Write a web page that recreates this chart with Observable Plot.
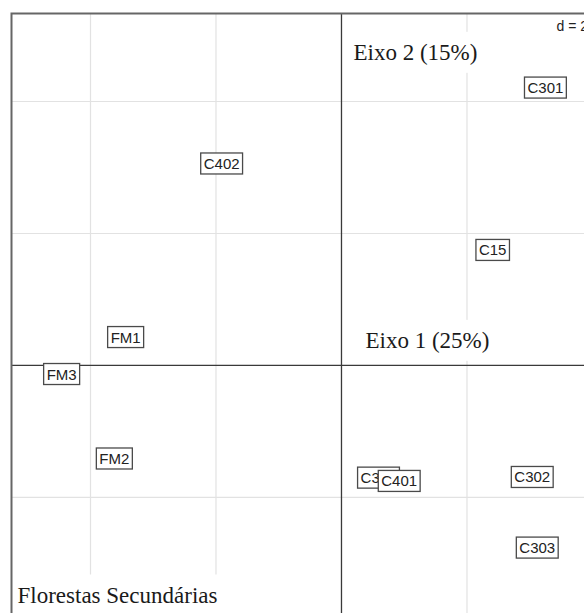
<!DOCTYPE html>
<html><head><meta charset="utf-8">
<script src="https://cdn.jsdelivr.net/npm/d3@7"></script>
<script src="https://cdn.jsdelivr.net/npm/@observablehq/plot@0.6"></script>
<style>html,body{margin:0;padding:0;background:#fff;overflow:hidden}</style>
</head><body><div id="chart"></div>
<script>
// Site labels and their scores on the two ordination axes
const labels = ["C301", "C402", "C15", "FM1", "FM3", "FM2", "C304", "C401", "C302", "C303"];
const axis1 = [3.25, -1.91, 2.41, -3.44, -4.46, -3.62, 0.59, 0.92, 3.04, 3.12];
const axis2 = [4.20, 3.05, 1.74, 0.42, -0.14, -1.42, -1.71, -1.76, -1.70, -2.77];
// grid spacing d = 2
const gridTicks = [-4, -2, 2, 4];
const origin = [0];
const axisTitle1 = "Eixo 1 (25%)";
const axisTitle2 = "Eixo 2 (15%)";
const groupTitle = "Florestas Secundárias";
const scaleNote = "d = 2";

const idx = labels.map((_, i) => i);
const serif = "'Liberation Serif', 'Times New Roman', serif";
const sans = "'Liberation Sans', Arial, sans-serif";

const chart = Plot.plot({
  width: 584,
  height: 613,
  marginLeft: 11,
  marginTop: 13,
  marginRight: 0,
  marginBottom: 0,
  x: {domain: [-5.259, 3.873], axis: null},
  y: {domain: [-3.758, 5.333], axis: null},
  style: {background: "#fff"},
  marks: [
    Plot.ruleX(gridTicks, {stroke: "#e2e2e2", strokeWidth: 1.2}),
    Plot.ruleY(gridTicks, {stroke: "#e2e2e2", strokeWidth: 1.2}),
    Plot.ruleX(origin, {stroke: "#3a3a3a", strokeWidth: 1.3}),
    Plot.ruleY(origin, {stroke: "#3a3a3a", strokeWidth: 1.3}),
    Plot.text([axisTitle2], {x: origin[0], frameAnchor: "top", text: d => d, textAnchor: "start",
      dx: 12, dy: 30, fontFamily: serif, fontSize: 23, fill: "#1a1a1a", className: "ttl"}),
    Plot.text([axisTitle1], {x: origin[0], y: origin[0], text: d => d, textAnchor: "start",
      dx: 24, dy: -25, fontFamily: serif, fontSize: 23, fill: "#1a1a1a", className: "ttl"}),
    Plot.text([groupTitle], {frameAnchor: "bottom-left", text: d => d, textAnchor: "start",
      dx: 6, dy: -11, fontFamily: serif, fontSize: 23, fill: "#1a1a1a", className: "ttl"}),
    Plot.frame({stroke: "#666", strokeWidth: 2, insetRight: -20, insetBottom: -20}),
    Plot.text([scaleNote], {frameAnchor: "top-right", text: d => d, textAnchor: "start",
      dx: -28, dy: 8, fontFamily: sans, fontSize: 14, fill: "#222", className: "note"}),
    Plot.text(idx, {x: i => axis1[i], y: i => axis2[i], text: i => labels[i],
      fontFamily: sans, fontSize: 15, fill: "#222", className: "lbl"})
  ]
});
document.getElementById("chart").appendChild(chart);

function boxes(cls, padX, padY, stroke) {
  chart.querySelectorAll(`g.${cls} text, .${cls} text`).forEach(t => {
    if (t.previousSibling && t.previousSibling.__bg) return;
    const b = t.getBBox();
    const r = document.createElementNS("http://www.w3.org/2000/svg", "rect");
    r.__bg = true;
    r.setAttribute("x", b.x - padX);
    r.setAttribute("y", b.y - padY);
    r.setAttribute("width", b.width + 2 * padX);
    r.setAttribute("height", b.height + 2 * padY);
    r.setAttribute("fill", "#fff");
    if (stroke) { r.setAttribute("stroke", stroke); r.setAttribute("stroke-width", 1.3); }
    const tr = t.getAttribute("transform");
    if (tr) r.setAttribute("transform", tr);
    t.parentNode.insertBefore(r, t);
  });
}
boxes("ttl", 6, 8, null);
boxes("note", 3, 2, null);
boxes("lbl", 3, 2, "#4a4a4a");
</script>
</body></html>
